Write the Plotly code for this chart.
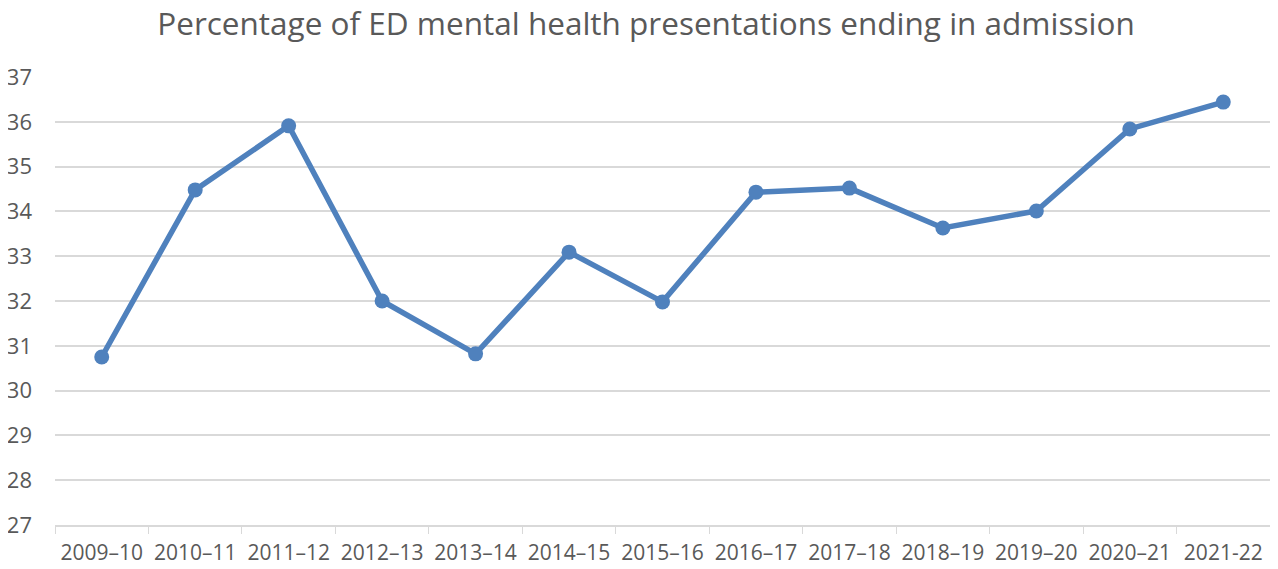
import plotly.graph_objects as go

categories = ["2009–10", "2010–11", "2011–12", "2012–13", "2013–14", "2014–15", "2015–16",
              "2016–17", "2017–18", "2018–19", "2019–20", "2020–21", "2021-22"]
values = [30.75, 34.48, 35.91, 32.0, 30.82, 33.09, 31.98, 34.43, 34.52, 33.63, 34.01, 35.84, 36.44]
y_ticks = list(range(27, 38))

fig = go.Figure()
fig.add_trace(go.Scatter(
    x=categories, y=values, mode="lines+markers",
    line=dict(color="#4F81BD", width=5.5),
    marker=dict(color="#4F81BD", size=15),
    showlegend=False, cliponaxis=False,
))

font_family = "Open Sans"
fig.update_layout(
    width=1278, height=569,
    margin=dict(l=47, r=16, t=69, b=52),
    paper_bgcolor="white", plot_bgcolor="white",
    title=dict(text="Percentage of ED mental health presentations ending in admission",
               x=638/1278, xref="container", xanchor="center",
               y=1-16/569, yref="container", yanchor="middle",
               font=dict(family=font_family, size=31.5, color="#595959")),
    font=dict(family=font_family, color="#595959"),
)
fig.update_xaxes(
    type="category", tickson="boundaries", ticks="outside", ticklen=7,
    tickcolor="#D9D9D9", showline=True, linecolor="#D9D9D9", linewidth=1.5,
    showgrid=False, tickfont=dict(size=21, color="#595959"), automargin=False,
    tickangle=0, ticklabelstandoff=8, range=[-0.5, len(categories) - 0.5],
)
fig.update_yaxes(
    range=[27, 37], tickvals=y_ticks, showgrid=True, gridcolor="#D9D9D9", gridwidth=1.5,
    zeroline=False, showline=False, ticks="", ticklabelstandoff=22,
    tickfont=dict(size=22, color="#595959"), automargin=False,
)
fig.write_html("out.html")
